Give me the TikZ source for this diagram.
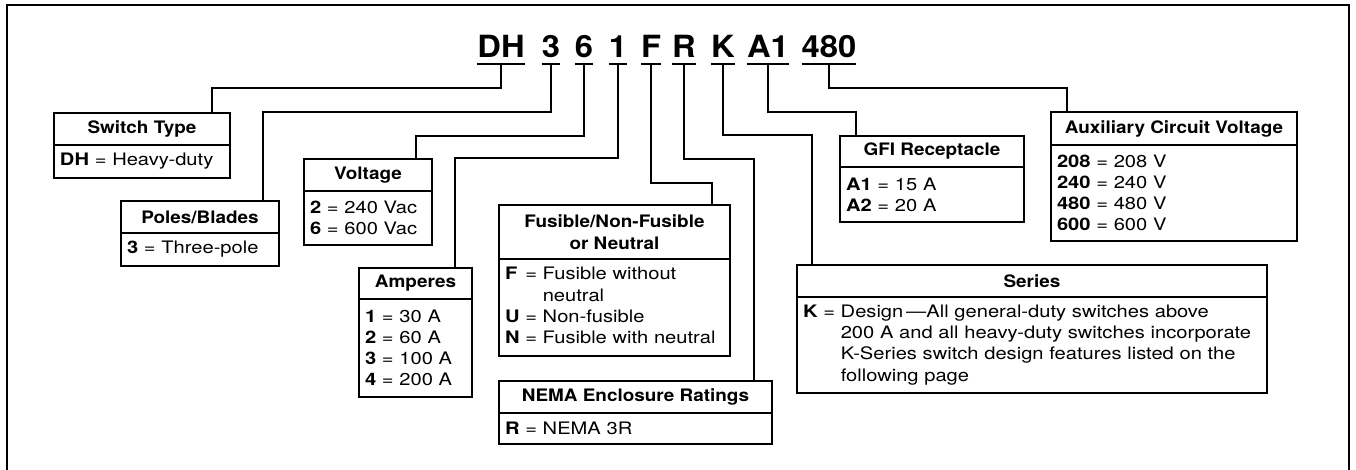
\documentclass[tikz,border=0pt]{standalone}
\usepackage{fontspec}
\setmainfont{TeX Gyre Heros}[FakeStretch=1.17]
\newfontfamily\hdrfont{TeX Gyre Heros}[FakeStretch=1.1]
\newfontfamily\codefont{TeX Gyre Heros}[FakeStretch=1.07]
\tikzset{
  hdr/.style={draw, line width=1.1pt, outer sep=0pt, inner sep=0pt, anchor=north west, align=center, font=\hdrfont\bfseries\fontsize{8.6}{11}\selectfont},
  bdy/.style={draw, line width=1.1pt, outer sep=0pt, inner xsep=3pt, inner ysep=0pt, anchor=north west, align=left, font=\fontsize{8.6}{10.6}\selectfont},
  codepart/.style={anchor=base, outer sep=0pt, inner xsep=0pt, inner ysep=3pt, text depth=0pt, font=\codefont\bfseries\fontsize{15.3}{16}\selectfont},
  wire/.style={line width=1pt},
}
\begin{document}
\begin{tikzpicture}[x=0.5pt, y=-0.5pt]
    \useasboundingbox (0,0) rectangle (1356,470);
    % marco
    \draw[line width=1.3pt] (7,470) -- (7,5) -- (1349,5) -- (1349,470);
    % codigo de catalogo
    \node[codepart] (cDH) at (501,58) {DH};
    \node[codepart] (c3) at (551,58) {3};
    \node[codepart] (c6) at (584,58) {6};
    \node[codepart] (c1) at (618,58) {1};
    \node[codepart] (cF) at (651,58) {F};
    \node[codepart] (cR) at (684,58) {R};
    \node[codepart] (cK) at (723,58) {K};
    \node[codepart] (cA1) at (768,58) {A1};
    \node[codepart] (c480) at (829,58) {480};
    \draw[wire] (cDH.south west) -- (cDH.south east);
    \draw[wire] (c3.south west) -- (c3.south east);
    \draw[wire] (c6.south west) -- (c6.south east);
    \draw[wire] (c1.south west) -- (c1.south east);
    \draw[wire] (cF.south west) -- (cF.south east);
    \draw[wire] (cR.south west) -- (cR.south east);
    \draw[wire] (cK.south west) -- (cK.south east);
    \draw[wire] (cA1.south west) -- (cA1.south east);
    \draw[wire] (c480.south west) -- (c480.south east);
    % Switch Type
    \node[hdr, minimum width=88pt, minimum height=16pt] (stype) at (54,113) {Switch Type};
    \node[bdy, text width=82pt, minimum height=16.5pt] (stype-b) at (stype.south west) {\textbf{DH} = Heavy-duty};
    % Poles/Blades
    \node[hdr, minimum width=79pt, minimum height=16pt] (poles) at (121,201) {Poles/Blades};
    \node[bdy, text width=73pt, minimum height=16.5pt] (poles-b) at (poles.south west) {\textbf{3} = Three-pole};
    % Voltage
    \node[hdr, minimum width=64pt, minimum height=16pt] (volt) at (304,159) {Voltage};
    \node[bdy, text width=58pt, minimum height=27pt] (volt-b) at (volt.south west) {\textbf{2} = 240 Vac\\\textbf{6} = 600 Vac};
    % Amperes
    \node[hdr, minimum width=56.5pt, minimum height=15.5pt] (amps) at (359,268) {Amperes};
    \node[bdy, text width=50.5pt, minimum height=49pt] (amps-b) at (amps.south west) {\textbf{1} = 30 A\\\textbf{2} = 60 A\\\textbf{3} = 100 A\\\textbf{4} = 200 A};
    % Fusible/Non-Fusible
    \node[hdr, minimum width=115.5pt, minimum height=27pt] (fuse) at (499,205) {Fusible/Non-Fusible\\or Neutral};
    \node[bdy, text width=109.5pt, minimum height=48.5pt] (fuse-b) at (fuse.south west) {\begin{tabular}{@{}l@{~}l@{~}l@{}}\textbf{F} & = & Fusible without\\ & & neutral\\\textbf{U} & = & Non-fusible\\\textbf{N} & = & Fusible with neutral\end{tabular}};
    % NEMA
    \node[hdr, minimum width=136.5pt, minimum height=16pt] (nema) at (499,381) {NEMA Enclosure Ratings};
    \node[bdy, text width=130.5pt, minimum height=15.5pt] (nema-b) at (nema.south west) {\textbf{R} = NEMA 3R};
    % GFI
    \node[hdr, minimum width=92pt, minimum height=15.5pt] (gfi) at (840,136) {GFI Receptacle};
    \node[bdy, text width=86pt, minimum height=27.5pt] (gfi-b) at (gfi.south west) {\textbf{A1} = 15 A\\\textbf{A2} = 20 A};
    % Auxiliary
    \node[hdr, minimum width=123pt, minimum height=16.5pt] (aux) at (1051,112) {Auxiliary Circuit Voltage};
    \node[bdy, text width=117pt, minimum height=48pt] (aux-b) at (aux.south west) {\textbf{208} = 208 V\\\textbf{240} = 240 V\\\textbf{480} = 480 V\\\textbf{600} = 600 V};
    % Series
    \node[hdr, minimum width=235pt, minimum height=16pt] (series) at (797,265) {Series};
    \node[bdy, text width=229pt, minimum height=48pt] (series-b) at (series.south west) {\begin{tabular}{@{}l@{~}l@{~}l@{}}\textbf{K} & = & Design\,—All general-duty switches above\\ & & 200 A and all heavy-duty switches incorporate\\ & & K-Series switch design features listed on the\\ & & following page\end{tabular}};
    % conectores
    \draw[wire] (cDH.south) |- (212,88) -- (212,88 |- stype.north);
    \draw[wire] (c3.south) |- (263,112) -- (263,112 |- poles.north);
    \draw[wire] (c6.south) |- (416,136) -- (416,136 |- volt.north);
    \draw[wire] (c1.south) |- (455,158) -- (455,158 |- amps.north);
    \draw[wire] (cF.south) |- (712,183) -- (712,183 |- fuse.north);
    \draw[wire] (cR.south) |- (754,159) -- (754,159 |- nema.north);
    \draw[wire] (cK.south) |- (812,135) -- (812,135 |- series.north);
    \draw[wire] (cA1.south) |- (856,112) -- (856,112 |- gfi.north);
    \draw[wire] (c480.south) |- (1067,88) -- (1067,88 |- aux.north);
\end{tikzpicture}
\end{document}
